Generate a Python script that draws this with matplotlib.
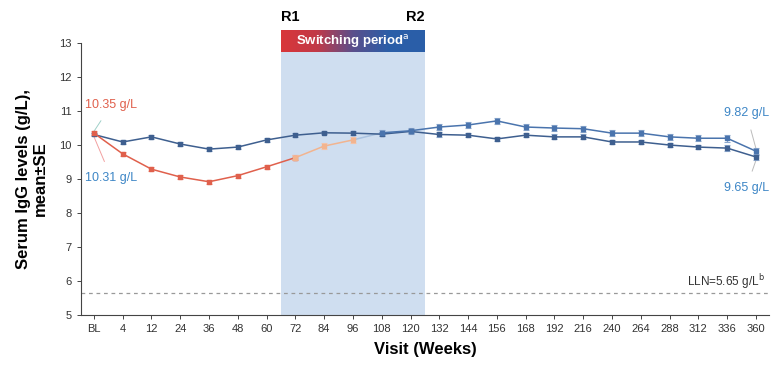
import matplotlib.pyplot as plt
import numpy as np

plt.rcParams["font.family"] = ["Liberation Sans", "DejaVu Sans"]

visits = ["BL", "4", "12", "24", "36", "48", "60", "72", "84", "96", "108", "120",
          "132", "144", "156", "168", "192", "216", "240", "264", "288", "312", "336", "360"]

# continuous arm (starts 10.31 g/L)
cont_mean = [10.31, 10.09, 10.24, 10.03, 9.88, 9.94, 10.15, 10.29, 10.36, 10.35, 10.32, 10.40,
             10.31, 10.29, 10.18, 10.29, 10.24, 10.24, 10.09, 10.09, 10.00, 9.94, 9.91, 9.65]
cont_se = [0.05, 0.05, 0.05, 0.05, 0.05, 0.05, 0.05, 0.05, 0.05, 0.05, 0.06, 0.06,
           0.06, 0.06, 0.06, 0.06, 0.07, 0.07, 0.07, 0.07, 0.07, 0.07, 0.08, 0.08]

# switched arm: red up to week 96, blue from week 108
sw_red_mean = [10.35, 9.74, 9.29, 9.06, 8.92, 9.10, 9.36, 9.63, 9.97, 10.15]
sw_red_se = [0.05, 0.06, 0.06, 0.06, 0.06, 0.06, 0.06, 0.07, 0.08, 0.08]
sw_blue_mean = [10.36, 10.42, 10.53, 10.59, 10.71, 10.53, 10.50, 10.48, 10.35, 10.35,
                10.24, 10.20, 10.20, 9.82]
sw_blue_se = [0.09, 0.09, 0.09, 0.09, 0.09, 0.09, 0.09, 0.09, 0.09, 0.09, 0.09, 0.09, 0.10, 0.10]

lln = 5.65

x = np.arange(len(visits))
x_red = x[:len(sw_red_mean)]
x_blue = x[len(sw_red_mean):]

fig = plt.figure(figsize=(7.71, 3.68), dpi=100)
ax = fig.add_axes([0.105, 0.144, 0.893, 0.739])

dark_blue = "#3e5f8f"
mid_blue = "#4a74ad"
red = "#e0604c"
pale = "#f2b48f"
lbl_blue = "#3d86c6"

# switching period shading + banner
ax.axvspan(6.5, 11.5, ymin=0, ymax=(12.74 - 5) / 8, color="#cfdef0", zorder=0, lw=0)
ax.fill_between([6.5, 11.5], 13, 12.74, color="#cfdef0", zorder=0, lw=0, clip_on=False)
grad = np.linspace(0, 1, 256).reshape(1, -1)
cmap = plt.matplotlib.colors.LinearSegmentedColormap.from_list(
    "sw", ["#d9363a", "#c13a48", "#5a4f8c", "#2b5ea8", "#2a5fa9"])
ax.imshow(grad, extent=(6.5, 11.5, 12.74, 13.38), aspect="auto", cmap=cmap,
          clip_on=False, zorder=3)
ax.text(9.0, 13.06, "Switching period$^{\\mathrm{a}}$", color="white", fontsize=9.5,
        fontweight="bold", ha="center", va="center", zorder=4, clip_on=False)
ax.text(6.5, 13.55, "R1", fontsize=10.5, fontweight="bold", ha="left", va="bottom")
ax.text(11.5, 13.55, "R2", fontsize=10.5, fontweight="bold", ha="right", va="bottom")

# LLN
ax.axhline(lln, color="#999999", lw=0.9, ls=(0, (3, 3)), zorder=1)
ax.text(23.3, 5.97, "LLN=5.65 g/L$^{\\mathrm{b}}$", fontsize=8.5, ha="right", va="center",
        color="#333333")

# continuous arm
ax.errorbar(x, cont_mean, yerr=cont_se, color=dark_blue, ecolor="#8aa6cc", elinewidth=0.8,
            capsize=2, capthick=0.8, lw=1.1, marker="s", ms=3, zorder=5)

# switched arm
ax.errorbar(x_red[:8], sw_red_mean[:8], yerr=sw_red_se[:8], color=red, ecolor="#f0a090",
            elinewidth=0.8, capsize=2, capthick=0.8, lw=1.1, marker="s", ms=3, zorder=5)
ax.errorbar(x_red[7:], sw_red_mean[7:], yerr=sw_red_se[7:], color=pale, ecolor="#f5c6ac",
            elinewidth=0.8, capsize=2, capthick=0.8, lw=1.1, marker="s", ms=3, zorder=5)
ax.plot([x_red[-1], x_blue[0]], [sw_red_mean[-1], sw_blue_mean[0]], color="#a9c2e0",
        lw=1.1, zorder=4)
ax.errorbar(x_blue, sw_blue_mean, yerr=sw_blue_se, color=mid_blue, ecolor="#8aa6cc",
            elinewidth=0.8, capsize=2, capthick=0.8, lw=1.1, marker="s", ms=3, zorder=5)

# value labels
ax.annotate("10.35 g/L", xy=(0, 10.4), xytext=(-0.3, 11.18), color=red, fontsize=9,
            va="center", ha="left",
            arrowprops=dict(arrowstyle="-", color="#9fd0c8", lw=0.7, shrinkA=6, shrinkB=0))
ax.annotate("10.31 g/L", xy=(0, 10.25), xytext=(-0.3, 9.03), color=lbl_blue, fontsize=9,
            va="center", ha="left",
            arrowprops=dict(arrowstyle="-", color="#f2a0a0", lw=0.7, shrinkA=6, shrinkB=0))
ax.annotate("9.82 g/L", xy=(23, 9.9), xytext=(23.45, 10.94), color=lbl_blue, fontsize=9,
            va="center", ha="right",
            arrowprops=dict(arrowstyle="-", color="#bbbbbb", lw=0.7, shrinkA=6, shrinkB=0))
ax.annotate("9.65 g/L", xy=(23, 9.55), xytext=(23.45, 8.74), color=lbl_blue, fontsize=9,
            va="center", ha="right",
            arrowprops=dict(arrowstyle="-", color="#bbbbbb", lw=0.7, shrinkA=6, shrinkB=0))

ax.set_xlim(-0.45, 23.47)
ax.set_ylim(5, 13)
ax.set_xticks(x)
ax.set_xticklabels(visits)
ax.set_yticks(range(5, 14))
ax.tick_params(axis="both", labelsize=8, length=3, width=0.7, color="#444444",
               labelcolor="#333333")
for side in ("top", "right"):
    ax.spines[side].set_visible(False)
for side in ("left", "bottom"):
    ax.spines[side].set_linewidth(0.8)
    ax.spines[side].set_color("#444444")

ax.set_xlabel("Visit (Weeks)", fontsize=12, fontweight="bold", labelpad=6)
ax.set_ylabel("Serum IgG levels (g/L),\nmean±SE", fontsize=12, fontweight="bold",
              labelpad=8)

fig.savefig("out.png", dpi=100)
